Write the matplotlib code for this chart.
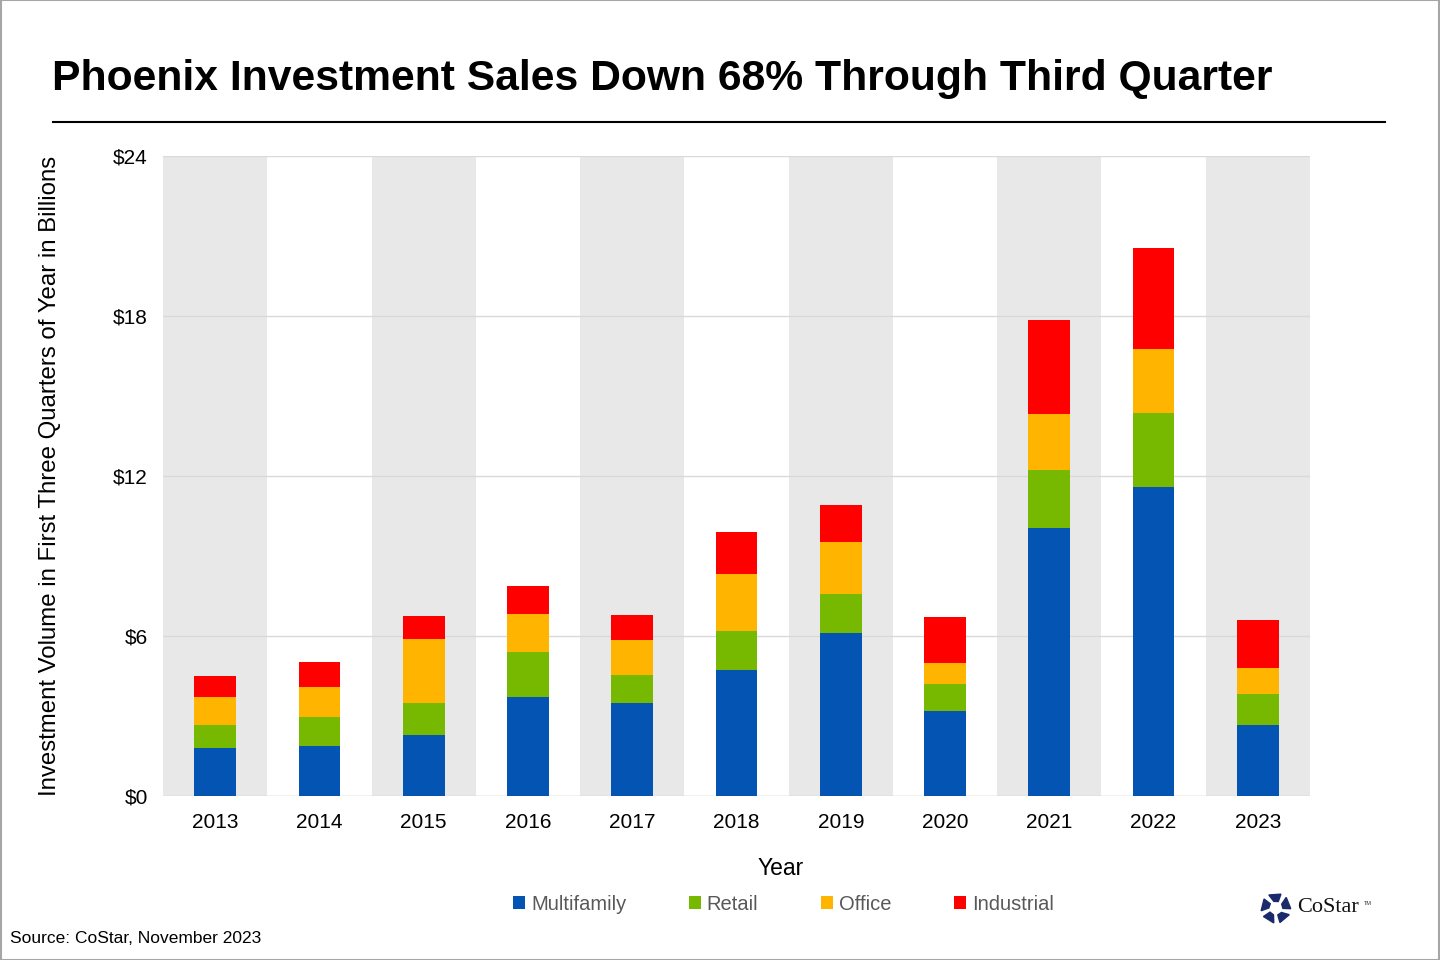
import numpy as np
import matplotlib
matplotlib.use('Agg')
import matplotlib.pyplot as plt
from matplotlib.patches import Polygon, Rectangle

plt.rcParams['font.family'] = ['Liberation Sans', 'DejaVu Sans']

years = ['2013', '2014', '2015', '2016', '2017', '2018', '2019', '2020', '2021', '2022', '2023']
multifamily = [1.80, 1.88, 2.29, 3.71, 3.49, 4.72, 6.11, 3.19, 10.05, 11.59, 2.66]
retail = [0.86, 1.09, 1.20, 1.69, 1.05, 1.46, 1.46, 1.01, 2.17, 2.77, 1.16]
office = [1.05, 1.13, 2.40, 1.42, 1.31, 2.14, 1.95, 0.79, 2.10, 2.40, 0.98]
industrial = [0.79, 0.94, 0.86, 1.05, 0.94, 1.57, 1.39, 1.72, 3.52, 3.79, 1.80]

series = [('Multifamily', multifamily, '#0455B3'),
          ('Retail', retail, '#76B900'),
          ('Office', office, '#FFB400'),
          ('Industrial', industrial, '#FF0000')]

fig = plt.figure(figsize=(14.4, 9.6), dpi=100)
ax = fig.add_axes([0.1132, 0.1708, 0.7965, 0.6667])

x = np.arange(len(years))
# alternating background bands
for i in x:
    if i % 2 == 0:
        ax.axvspan(i - 0.5, i + 0.5, color='#E8E8E8', zorder=0, lw=0)

bottom = np.zeros(len(years))
handles = []
for name, vals, col in series:
    b = ax.bar(x, vals, 0.4, bottom=bottom, color=col, label=name, zorder=3)
    handles.append(b)
    bottom += np.array(vals)

ax.set_xlim(-0.5, len(years) - 0.5)
ax.set_ylim(0, 24)
ax.set_yticks([0, 6, 12, 18, 24])
ax.set_yticklabels(['$0', '$6', '$12', '$18', '$24'], fontsize=15)
ax.set_xticks(x)
ax.set_xticklabels(years, fontsize=15)
ax.tick_params(axis='x', length=0, pad=12)
ax.tick_params(axis='y', length=0, pad=11)
ax.yaxis.grid(True, color='#D9D9D9', lw=1, zorder=1)
ax.set_axisbelow(True)
for s in ax.spines.values():
    s.set_visible(False)
ax.axhline(0, color='#D9D9D9', lw=1, zorder=2)

ax.set_xlabel('Year', fontsize=16.5)
ax.xaxis.set_label_coords(0.5385, -0.095)
ax.set_ylabel('Investment Volume in First Three Quarters of Year in Billions', fontsize=17.3)
ax.yaxis.set_label_coords(-0.089, 0.5)

fig.text(0.036, 0.918, 'Phoenix Investment Sales Down 68% Through Third Quarter',
         fontsize=30.7, fontweight='bold', va='center', ha='left')
fig.add_artist(plt.Line2D([0.037, 0.962], [0.873, 0.873], color='black', lw=1.5))

leg = fig.legend(handles=handles, labels=[s[0] for s in series], loc='center',
                 bbox_to_anchor=(0.544, 0.058), ncol=4, frameon=False, fontsize=14.5,
                 handlelength=0.6, handleheight=0.6, handletextpad=0.3, columnspacing=3.1)
for t in leg.get_texts():
    t.set_color('#595959')

fig.text(0.007, 0.022, 'Source: CoStar, November 2023', fontsize=12.5, va='center', ha='left')

# CoStar logo
lax = fig.add_axes([0.874, 0.036, 0.024, 0.036])
lax.set_xlim(-1.1, 1.1)
lax.set_ylim(-1.1, 1.1)
lax.axis('off')
for k in range(5):
    a0 = np.deg2rad(90 + k * 72 - 20)
    a1 = np.deg2rad(90 + k * 72 + 28)
    pts = [(0.95 * np.cos(a0), 0.95 * np.sin(a0)), (0.95 * np.cos(a1), 0.95 * np.sin(a1)),
           (0.45 * np.cos(a1 - 0.2), 0.45 * np.sin(a1 - 0.2)), (0.45 * np.cos(a0), 0.45 * np.sin(a0))]
    lax.add_patch(Polygon(pts, closed=True, color='#1B2A6B'))
fig.text(0.901, 0.055, 'CoStar', fontsize=16, family='Liberation Serif', va='center', ha='left', color='#111111')
fig.text(0.947, 0.059, 'TM', fontsize=4, va='center', ha='left', color='#333333')

fig.add_artist(Rectangle((0.0005, 0.0005), 0.999, 0.999, transform=fig.transFigure,
                         fill=False, edgecolor='#A6A6A6', lw=1.5))

fig.savefig('out.png', dpi=100)
